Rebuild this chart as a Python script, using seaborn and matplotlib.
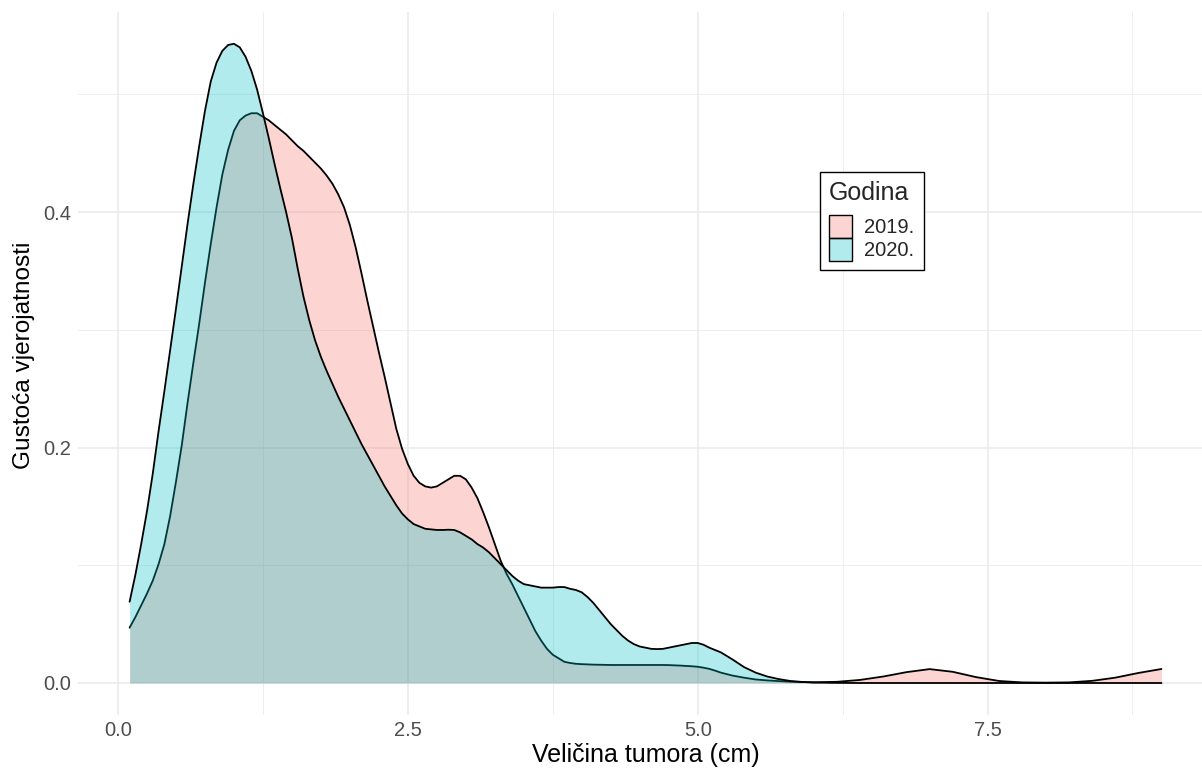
import numpy as np
import pandas as pd
import matplotlib
matplotlib.use("Agg")
import matplotlib.pyplot as plt
import seaborn as sns
from matplotlib.patches import Patch
from matplotlib.ticker import MultipleLocator

# Density estimates (tumour size in cm)
x_cm = [0.10, 0.15, 0.20, 0.25, 0.30, 0.35, 0.40, 0.45, 0.50, 0.55,
        0.60, 0.65, 0.70, 0.75, 0.80, 0.85, 0.90, 0.95, 1.00, 1.05,
        1.10, 1.15, 1.20, 1.25, 1.30, 1.35, 1.40, 1.45, 1.50, 1.55,
        1.60, 1.65, 1.70, 1.75, 1.80, 1.85, 1.90, 1.95, 2.00, 2.05,
        2.10, 2.15, 2.20, 2.25, 2.30, 2.35, 2.40, 2.45, 2.50, 2.55,
        2.60, 2.65, 2.70, 2.75, 2.80, 2.85, 2.90, 2.95, 3.00, 3.05,
        3.10, 3.15, 3.20, 3.25, 3.30, 3.35, 3.40, 3.45, 3.50, 3.55,
        3.60, 3.65, 3.70, 3.75, 3.80, 3.85, 3.90, 3.95, 4.00, 4.05,
        4.10, 4.15, 4.20, 4.25, 4.30, 4.35, 4.40, 4.45, 4.50, 4.55,
        4.60, 4.65, 4.70, 4.75, 4.80, 4.85, 4.90, 4.95, 5.00, 5.05,
        5.10, 5.15, 5.20,
        5.3, 5.4, 5.5, 5.6, 5.7, 5.8, 5.9, 6.0,
        6.2, 6.4, 6.6, 6.8, 7.0, 7.2, 7.4, 7.6, 7.8, 8.0, 8.2, 8.4, 8.6, 8.8, 9.0]

dens_2019 = [0.047, 0.056, 0.066, 0.076, 0.087, 0.101, 0.118, 0.142, 0.171, 0.202,
             0.238, 0.272, 0.305, 0.340, 0.373, 0.404, 0.432, 0.453, 0.469, 0.478,
             0.482, 0.484, 0.484, 0.481, 0.478, 0.474, 0.470, 0.466, 0.461, 0.456,
             0.452, 0.447, 0.442, 0.437, 0.431, 0.424, 0.415, 0.404, 0.389, 0.370,
             0.348, 0.325, 0.303, 0.281, 0.260, 0.238, 0.216, 0.199, 0.186, 0.176,
             0.170, 0.167, 0.166, 0.167, 0.170, 0.173, 0.176, 0.176, 0.173, 0.166,
             0.157, 0.145, 0.132, 0.118, 0.104, 0.093, 0.084, 0.074, 0.064, 0.054,
             0.044, 0.036, 0.029, 0.024, 0.021, 0.018, 0.017, 0.0163, 0.016, 0.0158,
             0.0156, 0.0155, 0.0154, 0.0153, 0.0153, 0.0153, 0.0153, 0.0153, 0.0153, 0.0153,
             0.0153, 0.0153, 0.0153, 0.0152, 0.015, 0.0148, 0.0145, 0.0142, 0.0138, 0.013,
             0.012, 0.0105, 0.0088,
             0.0063, 0.0045, 0.003, 0.0022, 0.0016, 0.0011, 0.0008, 0.0006,
             0.001, 0.0026, 0.0055, 0.0092, 0.0118, 0.0095, 0.005, 0.0017, 0.0005, 0.0003,
             0.0005, 0.0018, 0.0045, 0.0085, 0.0119]

dens_2020 = [0.069, 0.092, 0.118, 0.146, 0.178, 0.214, 0.248, 0.283, 0.318, 0.354,
             0.390, 0.424, 0.456, 0.486, 0.511, 0.527, 0.537, 0.542, 0.543, 0.540,
             0.532, 0.520, 0.504, 0.484, 0.463, 0.441, 0.420, 0.400, 0.378, 0.352,
             0.328, 0.308, 0.291, 0.277, 0.265, 0.254, 0.243, 0.233, 0.223, 0.213,
             0.203, 0.194, 0.185, 0.176, 0.167, 0.159, 0.151, 0.144, 0.139, 0.135,
             0.133, 0.131, 0.1305, 0.130, 0.130, 0.1302, 0.130, 0.128, 0.125, 0.122,
             0.118, 0.115, 0.111, 0.106, 0.101, 0.096, 0.091, 0.087, 0.084, 0.083,
             0.082, 0.081, 0.081, 0.081, 0.0815, 0.0815, 0.080, 0.079, 0.077, 0.073,
             0.068, 0.062, 0.056, 0.050, 0.045, 0.040, 0.036, 0.033, 0.031, 0.030,
             0.029, 0.0288, 0.029, 0.030, 0.031, 0.032, 0.033, 0.034, 0.034, 0.0325,
             0.030, 0.028, 0.026,
             0.020, 0.0135, 0.0088, 0.0055, 0.0033, 0.0017, 0.0009, 0.0004,
             0.0001, 0.0, 0.0, 0.0, 0.0, 0.0, 0.0, 0.0, 0.0, 0.0,
             0.0, 0.0, 0.0, 0.0, 0.0]

years = ["2019.", "2020."]
colors = {"2019.": "#F8766D", "2020.": "#00BFC4"}

df = pd.concat([
    pd.DataFrame({"x": x_cm, "density": dens_2019, "Godina": "2019."}),
    pd.DataFrame({"x": x_cm, "density": dens_2020, "Godina": "2020."}),
])

sns.set_theme(style="white")
plt.rcParams["font.family"] = ["Liberation Sans", "DejaVu Sans"]

fig = plt.figure(figsize=(12.02, 7.69), dpi=100)
ax = fig.add_axes([0.0649, 0.0702, 0.9443, 0.9142])

alpha = 0.3
for i, yr in enumerate(years):
    sub = df[df["Godina"] == yr]
    ax.fill_between(sub["x"], 0, sub["density"], color=colors[yr], alpha=alpha,
                    linewidth=0, zorder=2 + 2 * i)
    sns.lineplot(data=sub, x="x", y="density", color="black", linewidth=1.3,
                 ax=ax, zorder=3 + 2 * i, legend=False, sort=False)

ax.set_xlim(-0.345, 9.445)
ax.set_ylim(-0.0272, 0.570)
ax.xaxis.set_minor_locator(MultipleLocator(1.25))
ax.yaxis.set_minor_locator(MultipleLocator(0.1))
ax.set_xticks([0, 2.5, 5.0, 7.5])
ax.set_xticklabels(["0.0", "2.5", "5.0", "7.5"])
ax.set_yticks([0, 0.2, 0.4])
ax.set_yticklabels(["0.0", "0.2", "0.4"])

ax.grid(which="major", color="#EBEBEB", linewidth=1.2, zorder=0)
ax.grid(which="minor", color="#EBEBEB", linewidth=0.6, zorder=0)
ax.set_axisbelow(True)
for s in ax.spines.values():
    s.set_visible(False)
ax.tick_params(which="both", length=0, labelsize=14.5, labelcolor="#4D4D4D")
ax.tick_params(axis="x", pad=4.5)
ax.tick_params(axis="y", pad=5)

ax.set_xlabel("Veličina tumora (cm)", fontsize=18, color="black", labelpad=2)
ax.set_ylabel("Gustoća vjerojatnosti", fontsize=17.6, color="black")
ax.yaxis.set_label_coords(-0.038, 0.511)

handles = [Patch(facecolor=matplotlib.colors.to_rgba(colors[yr], alpha),
                 edgecolor="black", linewidth=1.0) for yr in years]

leg = ax.legend(handles, years, title="Godina", loc="upper left",
                bbox_to_anchor=(820 / 1202, 1 - 172 / 769), bbox_transform=fig.transFigure,
                borderaxespad=0, fontsize=14.5, title_fontsize=18, frameon=True,
                fancybox=False, edgecolor="black", framealpha=1,
                handlelength=1.15, handleheight=1.38, labelspacing=0,
                handletextpad=0.6, borderpad=0.45, alignment="left")
leg._legend_box.sep = 7
leg.get_frame().set_linewidth(1.0)
leg.set_zorder(10)

fig.savefig("out.png", dpi=100)
